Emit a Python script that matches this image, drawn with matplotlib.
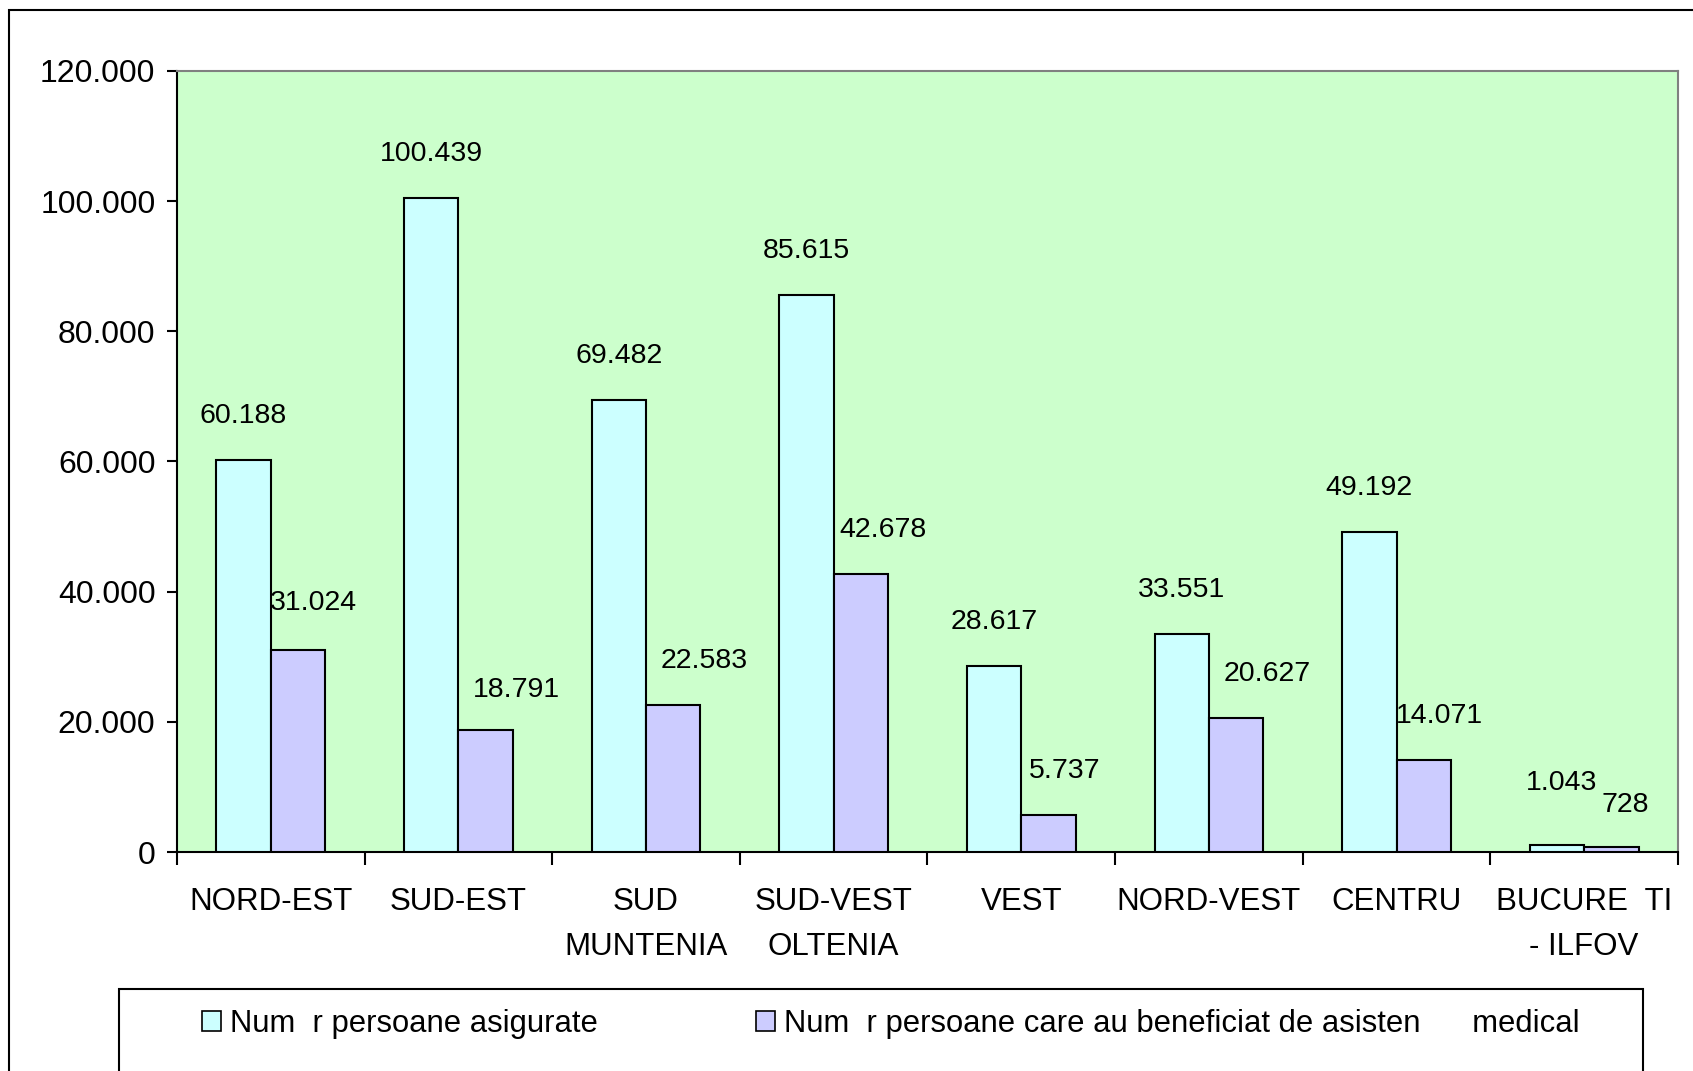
import matplotlib
matplotlib.use("Agg")
import matplotlib.pyplot as plt
from matplotlib.patches import Rectangle, Patch
from matplotlib.ticker import FixedLocator, FuncFormatter
import numpy as np

plt.rcParams['font.family'] = ['Liberation Sans', 'DejaVu Sans']

# data
regiuni = ["NORD-EST", "SUD-EST", "SUD\nMUNTENIA", "SUD-VEST\nOLTENIA", "VEST",
           "NORD-VEST", "CENTRU", "BUCURE  TI\n- ILFOV"]
asigurate = [60188, 100439, 69482, 85615, 28617, 33551, 49192, 1043]
beneficiari = [31024, 18791, 22583, 42678, 5737, 20627, 14071, 728]
serii = ["Num  r persoane asigurate",
         "Num  r persoane care au beneficiat de asisten      medical"]

# label nudges in pixels (dx, dy), style only
dx_asig = [0, 0, 0, 0, 0, 0, 0, 5]
dy_asig = [44, 44, 44, 44, 44, 44, 44, 62]
dx_ben = [15, 31, 31, 22, 16, 31, 16, 14]
dy_ben = [47, 40, 44, 44, 44, 44, 44, 42]

c_asig = "#CCFFFF"
c_ben = "#CCCCFF"


def fmt(v, pos=None):
    return f"{int(v):,}".replace(",", ".")


fig = plt.figure(figsize=(16.93, 10.71), dpi=100)
ax = fig.add_axes([177 / 1693, 1 - 852 / 1071, (1678 - 177) / 1693, (852 - 71) / 1071])
ax.set_facecolor("#CCFFCC")

x = np.arange(len(regiuni))
w = 0.29
b1 = ax.bar(x - w / 2, asigurate, w, color=c_asig, edgecolor="black", linewidth=1.5, zorder=3)
b2 = ax.bar(x + w / 2, beneficiari, w, color=c_ben, edgecolor="black", linewidth=1.5, zorder=3)

for i, r in enumerate(b1):
    ax.annotate(fmt(asigurate[i]), (r.get_x() + r.get_width() / 2, r.get_height()),
                xytext=(dx_asig[i], dy_asig[i]), textcoords="offset pixels",
                ha="center", va="center", fontsize=20.5)
for i, r in enumerate(b2):
    ax.annotate(fmt(beneficiari[i]), (r.get_x() + r.get_width() / 2, r.get_height()),
                xytext=(dx_ben[i], dy_ben[i]), textcoords="offset pixels",
                ha="center", va="center", fontsize=20.5)

ax.set_xlim(-0.5, len(regiuni) - 0.5)
ax.set_ylim(0, 120000)
ax.set_yticks(np.arange(0, 120001, 20000))
ax.yaxis.set_major_formatter(FuncFormatter(fmt))
ax.tick_params(axis="y", direction="out", length=7.5, width=1.5, pad=8, labelsize=23)

ax.set_xticks(x)
ax.set_xticklabels(regiuni, fontsize=22.5, linespacing=1.65)
ax.xaxis.set_minor_locator(FixedLocator(np.arange(-0.5, len(regiuni), 1)))
ax.tick_params(axis="x", which="major", length=0, pad=25)
ax.tick_params(axis="x", which="minor", direction="out", length=9.5, width=1.5)

for s in ["left", "bottom"]:
    ax.spines[s].set_color("black")
    ax.spines[s].set_linewidth(1.5)
for s in ["top", "right"]:
    ax.spines[s].set_color("#808080")
    ax.spines[s].set_linewidth(1.5)

# outer frame of the chart
fig.patches.append(Rectangle((9 / 1693, -0.2), 1.2, 1.2 - 10 / 1071, transform=fig.transFigure,
                             fill=False, edgecolor="black", linewidth=1.5, clip_on=False))
# legend frame
fig.patches.append(Rectangle((119 / 1693, -0.2), (1643 - 119) / 1693, 0.2 + 1 - 989 / 1071,
                             transform=fig.transFigure, fill=False, edgecolor="black",
                             linewidth=1.5, clip_on=False))

ly = 1 - 1024 / 1071
for lx, col, lab in [(202 / 1693, c_asig, serii[0]), (756 / 1693, c_ben, serii[1])]:
    h = Patch(facecolor=col, edgecolor="black", linewidth=1.2)
    leg = fig.legend([h], [lab], loc="center left", bbox_to_anchor=(lx, ly),
                     frameon=False, fontsize=22.3, borderpad=0, borderaxespad=0,
                     handlelength=0.62, handleheight=0.62, handletextpad=0.3)

fig.savefig("out.png", dpi=100)
